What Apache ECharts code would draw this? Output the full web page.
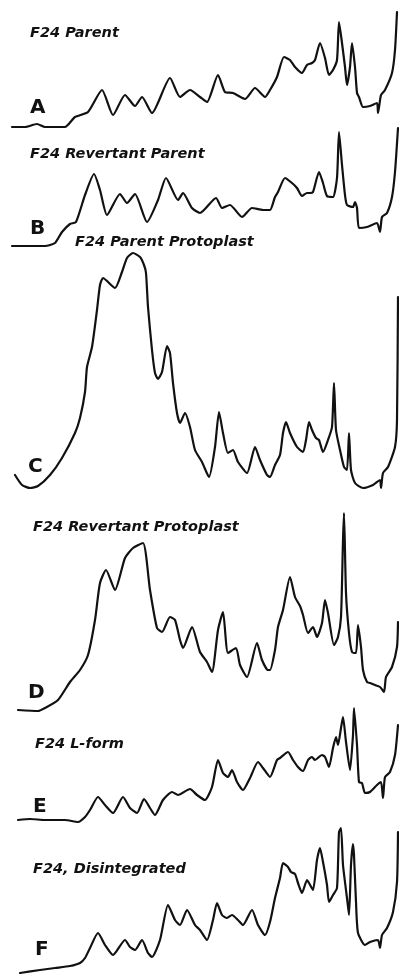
<!DOCTYPE html>
<html><head><meta charset="utf-8">
<script src="https://cdn.jsdelivr.net/npm/echarts@6/dist/echarts.min.js"></script>
<style>html,body{margin:0;padding:0;background:#fff}#c{width:399px;height:979px}</style>
</head><body><div id="c"></div>
<script>
// Trace labels
const panelLetters = ['A','B','C','D','E','F'];
const panelTitles = ['F24 Parent','F24 Revertant Parent','F24 Parent Protoplast','F24 Revertant Protoplast','F24 L-form','F24, Disintegrated'];

// Migration positions (x) and absorbance heights (y) for each scan
const xA = [12,25,37,45,55,65,75,88,102,113,125,135,142,152,170,180,190,200,207,218,225,233,245,255,265,270,277,284,290,295,302,307,312,315,320,325,329,333,337,339,342,345,347,350,352,355,357,359,363,370,377,378,381,385,392,395,397];
const yA = [1,1,4,1,1,1,11,16,38,13,33,22,31,15,50,31,38,31,26,53,36,35,29,40,31,38,51,71,68,61,55,63,65,68,85,70,53,58,68,106,85,61,43,61,85,61,35,31,21,22,25,15,33,38,55,78,116];

const xB = [12,45,55,62,70,76,85,94,100,107,120,127,135,147,158,166,178,183,192,200,216,222,230,242,252,263,270,275,278,285,292,297,302,307,310,313,319,323,327,333,337,339,342,345,347,353,355,357,359,367,377,380,382,387,392,395,398];
const yB = [0,0,3,14,22,24,51,72,56,31,52,43,52,24,46,68,46,53,38,33,48,38,41,29,38,36,36,49,54,68,63,58,50,53,53,54,74,63,50,49,68,114,81,51,41,39,44,38,18,19,23,14,29,33,49,74,118];

const xC = [15,22,30,38,50,62,75,80,85,87,92,97,100,103,115,122,127,133,140,144,146,148,152,155,158,162,167,170,173,177,180,185,190,195,202,209,215,219,223,228,233,238,247,255,260,267,270,275,280,283,286,290,297,303,306,309,312,316,319,323,328,332,334,336,340,344,347,349,351,355,363,373,380,381,383,388,395,397,398];
const yC = [13,3,0,2,13,30,55,70,96,121,141,178,203,210,200,216,230,235,231,223,215,181,138,115,109,116,142,135,105,75,65,75,61,38,26,11,41,76,55,35,38,26,15,41,28,13,11,23,33,55,66,55,41,36,48,66,58,50,48,36,48,61,105,58,38,21,18,55,18,5,0,3,8,0,15,21,41,68,191];

const xD = [18,38,45,58,70,80,88,95,100,106,115,125,133,143,150,157,162,170,175,180,183,192,200,207,212,218,223,228,236,240,247,257,262,268,270,275,278,283,290,295,300,303,308,313,317,322,325,328,334,338,341,343,344,346,349,352,356,358,361,363,367,370,375,380,384,386,392,397,398];
const yD = [1,0,3,11,29,41,56,91,128,141,121,153,163,168,121,83,79,94,91,71,63,84,59,49,39,81,99,58,63,46,34,68,51,41,41,61,84,101,134,114,105,96,78,84,74,88,111,98,66,74,94,171,198,118,78,59,58,86,64,41,29,28,26,24,19,34,44,64,89];

const xE = [18,30,45,65,78,85,90,98,105,113,123,130,137,144,150,155,163,172,178,190,197,205,212,218,223,228,232,237,243,250,258,263,270,277,280,288,293,298,303,308,312,315,322,325,329,333,336,338,341,343,346,350,353,354,357,359,362,365,370,377,381,383,385,390,395,398];
const yE = [2,3,2,2,0,5,12,25,17,9,25,14,9,23,14,7,22,30,27,33,27,22,35,62,49,45,52,40,32,44,60,54,45,62,64,70,62,55,51,62,65,62,67,65,55,74,85,77,94,105,80,52,87,114,77,40,39,29,30,37,40,24,45,50,67,97];

const xF = [20,40,55,70,80,85,90,98,105,113,125,130,135,142,148,152,160,168,175,180,187,195,200,207,213,217,222,227,232,238,243,252,258,265,270,275,280,283,288,291,295,298,302,307,309,313,317,320,323,327,329,333,337,339,341,343,347,349,351,353,354,356,358,365,370,378,380,382,387,393,397,398];
const yF = [1,4,6,8,11,16,26,41,29,19,34,27,24,34,21,17,34,69,54,49,64,49,44,34,54,71,59,56,59,54,49,64,49,39,52,76,96,111,107,102,100,91,81,94,91,84,114,126,112,89,72,79,86,142,146,109,76,59,109,130,119,72,41,29,32,34,26,39,46,62,92,142];

const traces = [[xA,yA],[xB,yB],[xC,yC],[xD,yD],[xE,yE],[xF,yF]];

// layout (pixels): baseline and vertical span of each panel
const baselines = [128,246,488,711,822,974];
const spans = [120,120,240,200,120,150];
const titlePos = [[30,33],[30,154],[75,242],[33,527],[35,744],[33,869]];
const letterPos = [[30,108],[30,229],[28,467],[28,693],[33,807],[35,950]];

const grids=[],xAxes=[],yAxes=[],series=[];
traces.forEach((t,i)=>{
  grids.push({left:0,width:399,top:baselines[i]-spans[i],height:spans[i]});
  xAxes.push({type:'value',gridIndex:i,min:0,max:399,show:false});
  yAxes.push({type:'value',gridIndex:i,min:0,max:spans[i],show:false});
  series.push({type:'line',xAxisIndex:i,yAxisIndex:i,data:t[0].map((x,k)=>[x,t[1][k]]),
    showSymbol:false,smooth:0.2,clip:false,silent:true,
    lineStyle:{color:'#111',width:2.2,join:'round',cap:'round'}});
});
const graphics=[];
panelTitles.forEach((s,i)=>{
  graphics.push({type:'text',x:titlePos[i][0],y:titlePos[i][1],silent:true,
    style:{text:s,fill:'#111',font:'italic bold 14.5px "DejaVu Sans"',verticalAlign:'middle'}});
  graphics.push({type:'text',x:letterPos[i][0],y:letterPos[i][1],silent:true,
    style:{text:panelLetters[i],fill:'#111',font:'900 20px "DejaVu Sans"',verticalAlign:'middle'}});
});
const chart = echarts.init(document.getElementById('c'),null,{renderer:'canvas'});
chart.setOption({animation:false,backgroundColor:'#fff',grid:grids,xAxis:xAxes,yAxis:yAxes,series:series,graphic:graphics});
</script></body></html>
